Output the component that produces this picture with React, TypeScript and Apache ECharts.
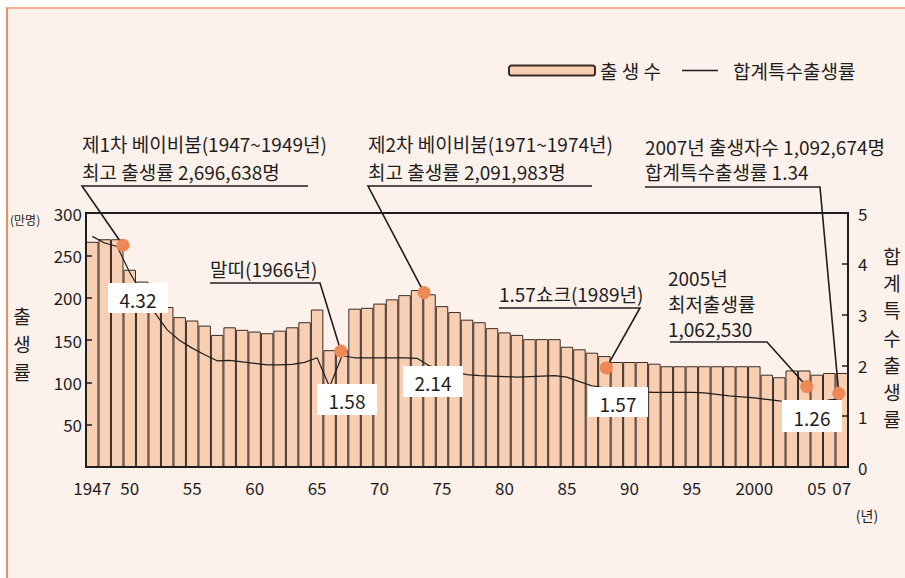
import React, { useEffect, useRef } from "react";
import * as echarts from "echarts";

// ---- data ----
const years: number[] = [];
for (let y = 1947; y <= 2007; y++) years.push(y);

// births (만명)
const births = [
  266, 269, 269, 233, 219, 201, 189, 177, 173, 167,
  156, 165, 162, 160, 158, 161, 165, 171, 186, 138,
  138, 187, 188, 193, 198, 203, 209, 204, 190, 183,
  174, 171, 164, 159, 156, 151, 151, 151, 142, 139,
  135, 131, 124, 124, 124, 122, 119, 119, 119, 119,
  119, 119, 119, 119, 109, 106, 114, 114, 109, 111,
  111,
];

// total fertility rate
const tfr = [
  4.54, 4.41, 4.34, 3.83, 3.41, 3.04, 2.70, 2.49, 2.34, 2.21,
  2.09, 2.10, 2.07, 2.04, 2.01, 2.01, 2.02, 2.06, 2.15, 1.58,
  2.19, 2.15, 2.15, 2.15, 2.15, 2.15, 2.14, 1.99, 1.93, 1.87,
  1.82, 1.80, 1.79, 1.78, 1.77, 1.78, 1.79, 1.80, 1.77, 1.68,
  1.60, 1.56, 1.53, 1.50, 1.48, 1.47, 1.47, 1.47, 1.47, 1.46,
  1.43, 1.40, 1.38, 1.36, 1.33, 1.30, 1.29, 1.29, 1.26, 1.32,
  1.34,
];

const xTickLabels: Record<number, string> = {
  1947: "1947", 1950: "50", 1955: "55", 1960: "60", 1965: "65", 1970: "70",
  1975: "75", 1980: "80", 1985: "85", 1990: "90", 1995: "95", 2000: "2000",
  2005: "05", 2007: "07",
};

// annotation markers: [year position, births value]
const markerYears = [1949.46, 1966.9, 1973.56, 1988.15, 2004.2, 2006.76];
const markerBirths = [262, 137, 206, 117, 95, 87];

const boxLabels = ["4.32", "1.58", "2.14", "1.57", "1.26"];

const FONT = "'Noto Sans CJK KR', 'Noto Sans', sans-serif";
const INK = "#1e1e1e";

export default function App() {
  const ref = useRef<HTMLDivElement>(null);

  useEffect(() => {
    if (!ref.current) return;
    const chart = echarts.init(ref.current, null, { renderer: "svg" });

    const option: any = {
      animation: false,
      backgroundColor: "transparent",
      textStyle: { fontFamily: FONT, color: INK },
      grid: {
        left: 86,
        right: 57,
        top: 213,
        bottom: 111,
        show: true,
        borderColor: INK,
        borderWidth: 2,
        backgroundColor: "transparent",
      },
      legend: [
        {
          data: ["출 생 수"],
          left: 503,
          top: 56,
          itemWidth: 86,
          itemHeight: 10,
          textStyle: { fontSize: 19, color: INK, fontFamily: FONT },
        },
        {
          data: [{ name: "합계특수출생률", icon: "rect" }],
          left: 677,
          top: 56,
          itemWidth: 36,
          itemHeight: 1.6,
          textStyle: { fontSize: 19, color: INK, fontFamily: FONT, padding: [0, 0, 0, 10] },
        },
      ],
      xAxis: [
        {
          type: "category",
          data: years,
          z: 5,
          boundaryGap: true,
          axisLine: { show: true, lineStyle: { color: INK, width: 2 } },
          axisTick: { show: false },
          axisLabel: {
            interval: (_i: number, v: string) => xTickLabels[Number(v)] !== undefined,
            formatter: (v: string) => xTickLabels[Number(v)] ?? "",
            fontSize: 17,
            color: INK,
            margin: 12,
            fontFamily: FONT,
          },
          splitLine: { show: false },
        },
        {
          type: "value",
          min: 1946.5,
          max: 2007.5,
          show: false,
        },
      ],
      yAxis: [
        {
          type: "value",
          min: 0,
          max: 300,
          interval: 50,
          z: 5,
          axisLine: { show: true, lineStyle: { color: INK, width: 2 } },
          axisTick: { show: true, inside: true, length: 6, lineStyle: { color: INK, width: 1.5 } },
          axisLabel: {
            formatter: (v: number) => (v === 0 ? "" : String(v)),
            fontSize: 17,
            color: INK,
            margin: 4,
            fontFamily: FONT,
          },
          splitLine: { show: false },
        },
        {
          type: "value",
          min: 0,
          max: 5,
          interval: 1,
          z: 5,
          axisLine: { show: true, lineStyle: { color: INK, width: 2 } },
          axisTick: { show: true, inside: true, length: 6, lineStyle: { color: INK, width: 1.5 } },
          axisLabel: { fontSize: 17, color: INK, margin: 10, fontFamily: FONT },
          splitLine: { show: false },
        },
      ],
      series: [
        {
          name: "출 생 수",
          type: "bar",
          data: births,
          barCategoryGap: "0%",
          itemStyle: { color: "#F9CFB3", borderColor: "#3a2c25", borderWidth: 1 },
          z: 2,
        },
        {
          name: "합계특수출생률",
          type: "line",
          yAxisIndex: 1,
          data: tfr,
          symbol: "none",
          lineStyle: { color: INK, width: 1.2 },
          itemStyle: { color: INK },
          z: 3,
        },
        {
          name: "markers",
          type: "scatter",
          xAxisIndex: 1,
          yAxisIndex: 0,
          data: markerYears.map((x, i) => [x, markerBirths[i]]),
          symbolSize: 13,
          itemStyle: { color: "#EE8955", opacity: 1 },
          z: 60,
        },
      ],
    };

    chart.setOption(option);

    const pts = markerYears.map((x, i) =>
      chart.convertToPixel({ seriesIndex: 2 }, [x, markerBirths[i]]) as number[]
    );

    const txt = (text: string, x: number, y: number, fontSize = 19, extra: any = {}) => ({
      type: "text",
      x,
      y,
      z: 50,
      style: {
        text,
        fontSize,
        fontFamily: FONT,
        fill: INK,
        align: "left",
        verticalAlign: "middle",
        ...extra,
      },
    });

    const leader = (points: number[][]) => ({
      type: "polyline",
      z: 50,
      shape: { points },
      style: { stroke: INK, lineWidth: 1.6, fill: "none" },
    });

    const box = (label: string, x: number, y: number, w: number, h: number) => ({
      type: "group",
      z: 40,
      children: [
        { type: "rect", z: 40, shape: { x, y, width: w, height: h }, style: { fill: "#ffffff" } },
        {
          type: "text",
          z: 41,
          x: x + w / 2,
          y: y + h / 2 + 1,
          style: {
            text: label,
            fontSize: 19,
            fontFamily: FONT,
            fill: INK,
            align: "center",
            verticalAlign: "middle",
          },
        },
      ],
    });

    const graphic: any[] = [
      // axis titles
      txt("(만명)", 10, 219, 12),
      txt("출\n생\n률", 22, 343, 19, { align: "center", lineHeight: 28 }),
      txt("합\n계\n특\n수\n출\n생\n률", 892, 337, 19, { align: "center", lineHeight: 27.2 }),
      txt("(년)", 867, 515, 14, { align: "center" }),

      // 1st baby boom
      txt("제1차 베이비붐(1947~1949년)", 82, 143),
      txt("최고 출생률 2,696,638명", 82, 171),
      leader([[308, 186], [82, 186], pts[0]]),

      // 2nd baby boom
      txt("제2차 베이비붐(1971~1974년)", 368, 143),
      txt("최고 출생률 2,091,983명", 368, 171),
      leader([[592, 186], [368, 186], pts[2]]),

      // 2007
      txt("2007년 출생자수 1,092,674명", 645, 146),
      txt("합계특수출생률 1.34", 645, 171),
      leader([[645, 187], [820, 187], pts[5]]),

      // 1966
      txt("말띠(1966년)", 210, 268),
      leader([[210, 283], [320, 283], pts[1]]),

      // 1989
      txt("1.57쇼크(1989년)", 499, 293),
      leader([[499, 308], [640, 308], pts[3]]),

      // 2005
      txt("2005년", 668, 277),
      txt("최저출생률", 668, 303),
      txt("1,062,530", 668, 328),
      leader([[670, 342], [767, 342], pts[4]]),

      // value boxes
      box(boxLabels[0], 108, 283, 60, 30),
      box(boxLabels[1], 317, 384, 60, 31),
      box(boxLabels[2], 403, 366, 60, 31),
      box(boxLabels[3], 588, 387, 60, 30),
      box(boxLabels[4], 782, 400, 60, 32),
    ];

    chart.setOption({ graphic });

    return () => chart.dispose();
  }, []);

  return (
    <div style={{ position: "fixed", left: 0, top: 0, width: 905, height: 578, background: "#ffffff", overflow: "hidden" }}>
      <div
        style={{
          position: "absolute",
          left: 6,
          top: 7,
          width: 940,
          height: 600,
          background: "#FDF1EC",
          borderLeft: "2px solid #F08D5C",
          borderTop: "2px solid #F4B091",
        }}
      />
      <div ref={ref} style={{ position: "absolute", left: 0, top: 0, width: 905, height: 578 }} />
    </div>
  );
}
